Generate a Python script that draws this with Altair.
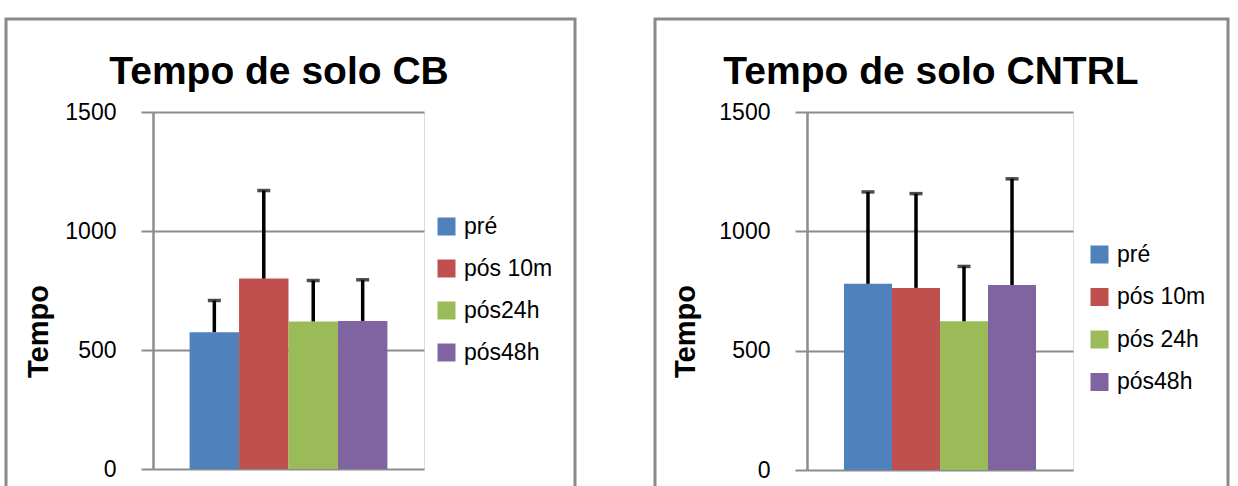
import altair as alt
import pandas as pd

# ---- data ----
cb_labels = ["pré", "pós 10m", "pós24h", "pós48h"]
cb_mean = [575, 800, 620, 622]
cb_sd = [133, 370, 172, 173]

cntrl_labels = ["pré", "pós 10m", "pós 24h", "pós48h"]
cntrl_mean = [780, 763, 623, 775]
cntrl_sd = [385, 395, 230, 445]

colors = ["#4F81BD", "#C0504D", "#9BBB59", "#8064A2"]
y_ticks = [0, 500, 1000, 1500]

FONT = "Liberation Sans, Arial"
GRID = "#8c8c8c"


def panel(labels, means, sds, title, width, height, outer, rect_x, rect_x2,
          title_x, tempo_x, legend_x, legend_y, row_pad):
    df = pd.DataFrame({
        "grupo": labels,
        "media": means,
        "upper": [m + s for m, s in zip(means, sds)],
    })
    xenc = alt.X("grupo:N", sort=labels, axis=None,
                 scale=alt.Scale(paddingInner=0, paddingOuter=outer))
    base = alt.Chart(df)
    bars = base.mark_bar(stroke=None).encode(
        x=xenc,
        y=alt.Y("media:Q",
                scale=alt.Scale(domain=[0, 1500], nice=False, zero=True),
                axis=alt.Axis(values=y_ticks, title="Tempo", format="d",
                              labelFont=FONT, labelFontSize=23,
                              labelColor="black", labelPadding=25,
                              tickSize=12, tickColor=GRID, tickWidth=2,
                              domainColor=GRID, domainWidth=2.5,
                              gridColor=GRID, gridWidth=2,
                              titleFont=FONT, titleFontSize=29,
                              titleFontWeight="bold", titleColor="black",
                              titleAngle=270, titleAlign="center",
                              titleBaseline="middle",
                              titleX=tempo_x, titleY=219)),
        color=alt.Color("grupo:N", sort=labels,
                        scale=alt.Scale(domain=labels, range=colors),
                        legend=alt.Legend(orient="none", legendX=legend_x,
                                          legendY=legend_y, title=None,
                                          symbolType="square", symbolSize=324,
                                          symbolStrokeWidth=0,
                                          labelFont=FONT, labelFontSize=23,
                                          labelColor="black", labelOffset=6,
                                          rowPadding=row_pad, padding=0)),
    )
    err = base.mark_rule(color="black", strokeWidth=3.5).encode(
        x=xenc, y="media:Q", y2="upper:Q")
    cap = base.mark_tick(color="black", thickness=3.5, size=13).encode(
        x=xenc, y="upper:Q")
    one = pd.DataFrame({"k": [0]})
    border = alt.Chart(one).mark_rect(
        fill="white", fillOpacity=0, stroke="#8a8a8a", strokeWidth=3
    ).encode(x=alt.value(rect_x), x2=alt.value(rect_x2),
             y=alt.value(-93), y2=alt.value(420))
    ttl = alt.Chart(one).mark_text(
        text=title, font=FONT, fontSize=39, fontWeight="bold",
        color="black", align="center", baseline="alphabetic"
    ).encode(x=alt.value(title_x), y=alt.value(-28))
    return alt.layer(border, bars, err, cap, ttl).properties(
        width=width, height=height)


left = panel(cb_labels, cb_mean, cb_sd, "Tempo de solo CB", 271, 357, 0.74,
             -147, 422, 126, -115, 282, 103, 18)
right = panel(cntrl_labels, cntrl_mean, cntrl_sd, "Tempo de solo CNTRL", 266, 358,
              0.77, -152, 421, 124, -122, 281, 131, 18.5)

chart = alt.hconcat(left, right, spacing=76).resolve_scale(
    x="independent", y="independent", color="independent"
).resolve_legend(color="independent").properties(
    padding={"left": 4, "top": 17, "right": 0, "bottom": 0}
).configure_view(stroke=None).configure(background="white")

chart.save("out.html", embed_options={"renderer": "svg", "actions": False})
